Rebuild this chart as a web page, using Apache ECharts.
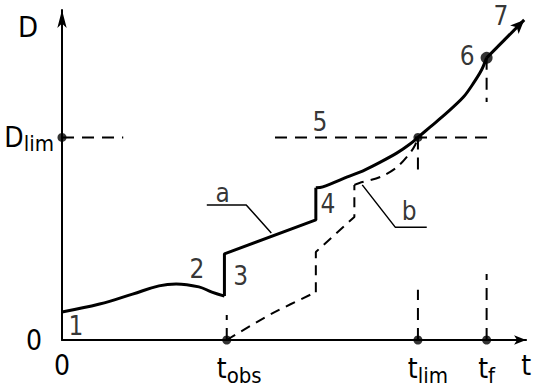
<!DOCTYPE html>
<html><head><meta charset="utf-8">
<script src="https://cdn.jsdelivr.net/npm/echarts@6/dist/echarts.min.js"></script>
<style>html,body{margin:0;padding:0;background:#fff}#c{width:534px;height:390px}</style>
</head><body><div id="c"></div>
<script>
// ---- key values (arbitrary schematic units) ----
const T_OBS = 35.5, T_LIM = 76.7, T_F = 91.5, D_LIM = 61.4;
const xTickValues = [0, T_OBS, T_LIM, T_F, 100];
const xTickLabels = ['0', 't_obs', 't_lim', 't_f', 't'];
const yTickValues = [0, D_LIM];
const yTickLabels = ['0', 'D_lim'];
const yAxisName = 'D';

// ---- curve a (solid) ----
const curveA1 = [[0,8.5],[8.1,10.9],[15.2,13.9],[20.9,16.4],[24.6,17.0],[29.5,16.1],[32.3,14.5],[35.0,13.3]];
const curveA2 = [[35.0,13.3],[35.0,26.1],[54.7,36.4],[54.7,46.1]];
const curveA3 = [[54.7,46.1],[56.2,46.4],[61.5,49.4],[65.2,51.5],[68.6,53.9],[72.2,56.7],[75.0,59.4],[76.7,61.4],[79.3,64.5],[82.9,68.8],[86.5,73.6],[88.7,77.9],[90.4,81.8],[91.5,85.5]];
const curveA7 = [[91.5,85.5],[99.6,97.0]];
// ---- curve b (dashed) ----
const curveB1 = [[35.5,0],[45.1,7.9],[54.7,14.5]];
const curveB2 = [[54.7,14.5],[54.7,26.7],[63.0,37.3],[63.0,47.0]];
const curveB3 = [[63.0,47.0],[64.1,47.6],[68.6,49.4],[72.2,52.4],[75.0,56.7],[76.1,59.1],[76.7,61.4]];
// ---- dashed reference lines ----
const refLines = [
  [[0,D_LIM],[13.2,D_LIM]],
  [[45.9,D_LIM],[92.9,D_LIM]],
  [[T_OBS,0],[T_OBS,7.6]],
  [[T_LIM,0],[T_LIM,15.2]],
  [[T_LIM,D_LIM],[T_LIM,50]],
  [[T_F,0],[T_F,20]],
  [[T_F,85.5],[T_F,72.1]]
];
// ---- marked points ----
const smallDots = [[0,D_LIM],[T_OBS,0],[T_LIM,0],[T_F,0],[T_LIM,D_LIM]];
const bigDots = [[T_F,85.5]];
// ---- annotation labels ----
const labelNames = ['1','2','3','4','5','6','7','a','b'];
const labelX = [3.0, 29.1, 38.5, 57.3, 55.6, 87.3, 94.6, 34.6, 74.8];
const labelY = [4.2, 21.5, 19.4, 41.2, 66.1, 86.2, 98.2, 44.5, 39.1];
const leaderA = [[31.2,40.9],[39.7,40.9],[45.1,32.4]];
const leaderB = [[64.7,47.0],[71.8,34.2],[78.6,34.2]];

const FONT = "'DejaVu Sans Condensed','DejaVu Sans',sans-serif";
const BLACK = '#000';

function richLabel(s) {
  if (s.indexOf('_') < 0) return '{m|' + s + '}';
  const p = s.split('_');
  const pad = p[1] === 'obs' ? '{p1|}' : (p[1] === 'lim' ? '{p2|}' : '');
  return pad + '{m|' + p[0] + '}{s|' + p[1] + '}';
}
const rich = {
  m: {fontFamily: FONT, fontSize: 28, color: BLACK},
  s: {fontFamily: FONT, fontSize: 22, color: BLACK, padding: [13,0,0,0]},
  z: {fontFamily: FONT, fontSize: 28, color: BLACK, padding: [0,12,0,0]},
  p1: {width: 25},
  p2: {width: 20}
};

function line(data, opts) {
  return Object.assign({
    type: 'line', data: data, symbol: 'none', silent: true, animation: false,
    lineStyle: {color: BLACK, width: 3}, z: 3
  }, opts || {});
}

const series = [];
series.push(line(curveA1, {smooth: 0.4}));
series.push(line(curveA2));
series.push(line(curveA3, {smooth: 0.3}));
series.push({
  type: 'line', data: [], silent: true, animation: false,
  markLine: {
    silent: true, animation: false, symbol: ['none','arrow'], symbolSize: [9, 14],
    label: {show: false}, lineStyle: {color: BLACK, width: 3, type: 'solid'},
    data: [[{coord: curveA7[0]}, {coord: curveA7[1]}]]
  }
});
const dashB = {color: BLACK, width: 2, type: [10, 7]};
series.push(line(curveB1, {smooth: 0.3, lineStyle: dashB}));
series.push(line(curveB2, {lineStyle: dashB}));
series.push(line(curveB3, {smooth: 0.3, lineStyle: dashB}));
refLines.forEach(r => series.push(line(r, {lineStyle: {color: BLACK, width: 2, type: [12, 8]}})));
series.push(line(leaderA, {lineStyle: {color: BLACK, width: 1.5}}));
series.push(line(leaderB, {lineStyle: {color: BLACK, width: 1.5}}));
series.push({type: 'scatter', data: smallDots, symbolSize: 9, itemStyle: {color: BLACK}, silent: true, animation: false, z: 5});
series.push({type: 'scatter', data: bigDots, symbolSize: 12, itemStyle: {color: BLACK}, silent: true, animation: false, z: 5});
series.push({
  type: 'scatter', symbolSize: 0, silent: true, animation: false, z: 6,
  data: labelNames.map((n, i) => ({name: n, value: [labelX[i], labelY[i]]})),
  label: {show: true, position: 'inside', formatter: '{b}', fontFamily: FONT, fontSize: 26,
          color: BLACK, textBorderWidth: 0}
});

const chart = echarts.init(document.getElementById('c'), null, {renderer: 'svg'});
chart.setOption({
  backgroundColor: '#fff',
  animation: false,
  grid: {left: 62, top: 10, width: 468, height: 330, containLabel: false},
  xAxis: {
    type: 'value', min: 0, max: 100,
    axisLine: {show: true, lineStyle: {color: BLACK, width: 2}, symbol: ['none','arrow'], symbolSize: [7, 12]},
    axisTick: {show: false}, splitLine: {show: false},
    axisLabel: {
      customValues: xTickValues, margin: 11, showMinLabel: true, showMaxLabel: true,
      formatter: (v) => { const i = xTickValues.indexOf(v); return richLabel(xTickLabels[i]); },
      rich: rich
    }
  },
  yAxis: {
    type: 'value', min: 0, max: 100,
    name: yAxisName, nameLocation: 'end', nameGap: -2,
    nameTextStyle: {fontFamily: FONT, fontSize: 29, color: BLACK, align: 'right', verticalAlign: 'top', padding: [0, 24, 0, 0]},
    axisLine: {show: true, lineStyle: {color: BLACK, width: 2}, symbol: ['none','arrow'], symbolSize: [7, 18]},
    axisTick: {show: false}, splitLine: {show: false},
    axisLabel: {
      customValues: yTickValues, margin: 8, showMinLabel: true, showMaxLabel: true,
      formatter: (v) => { const i = yTickValues.indexOf(v); const s = yTickLabels[i]; return s === '0' ? '{z|0}' : richLabel(s); },
      rich: rich
    }
  },
  series: series
});
</script></body></html>
